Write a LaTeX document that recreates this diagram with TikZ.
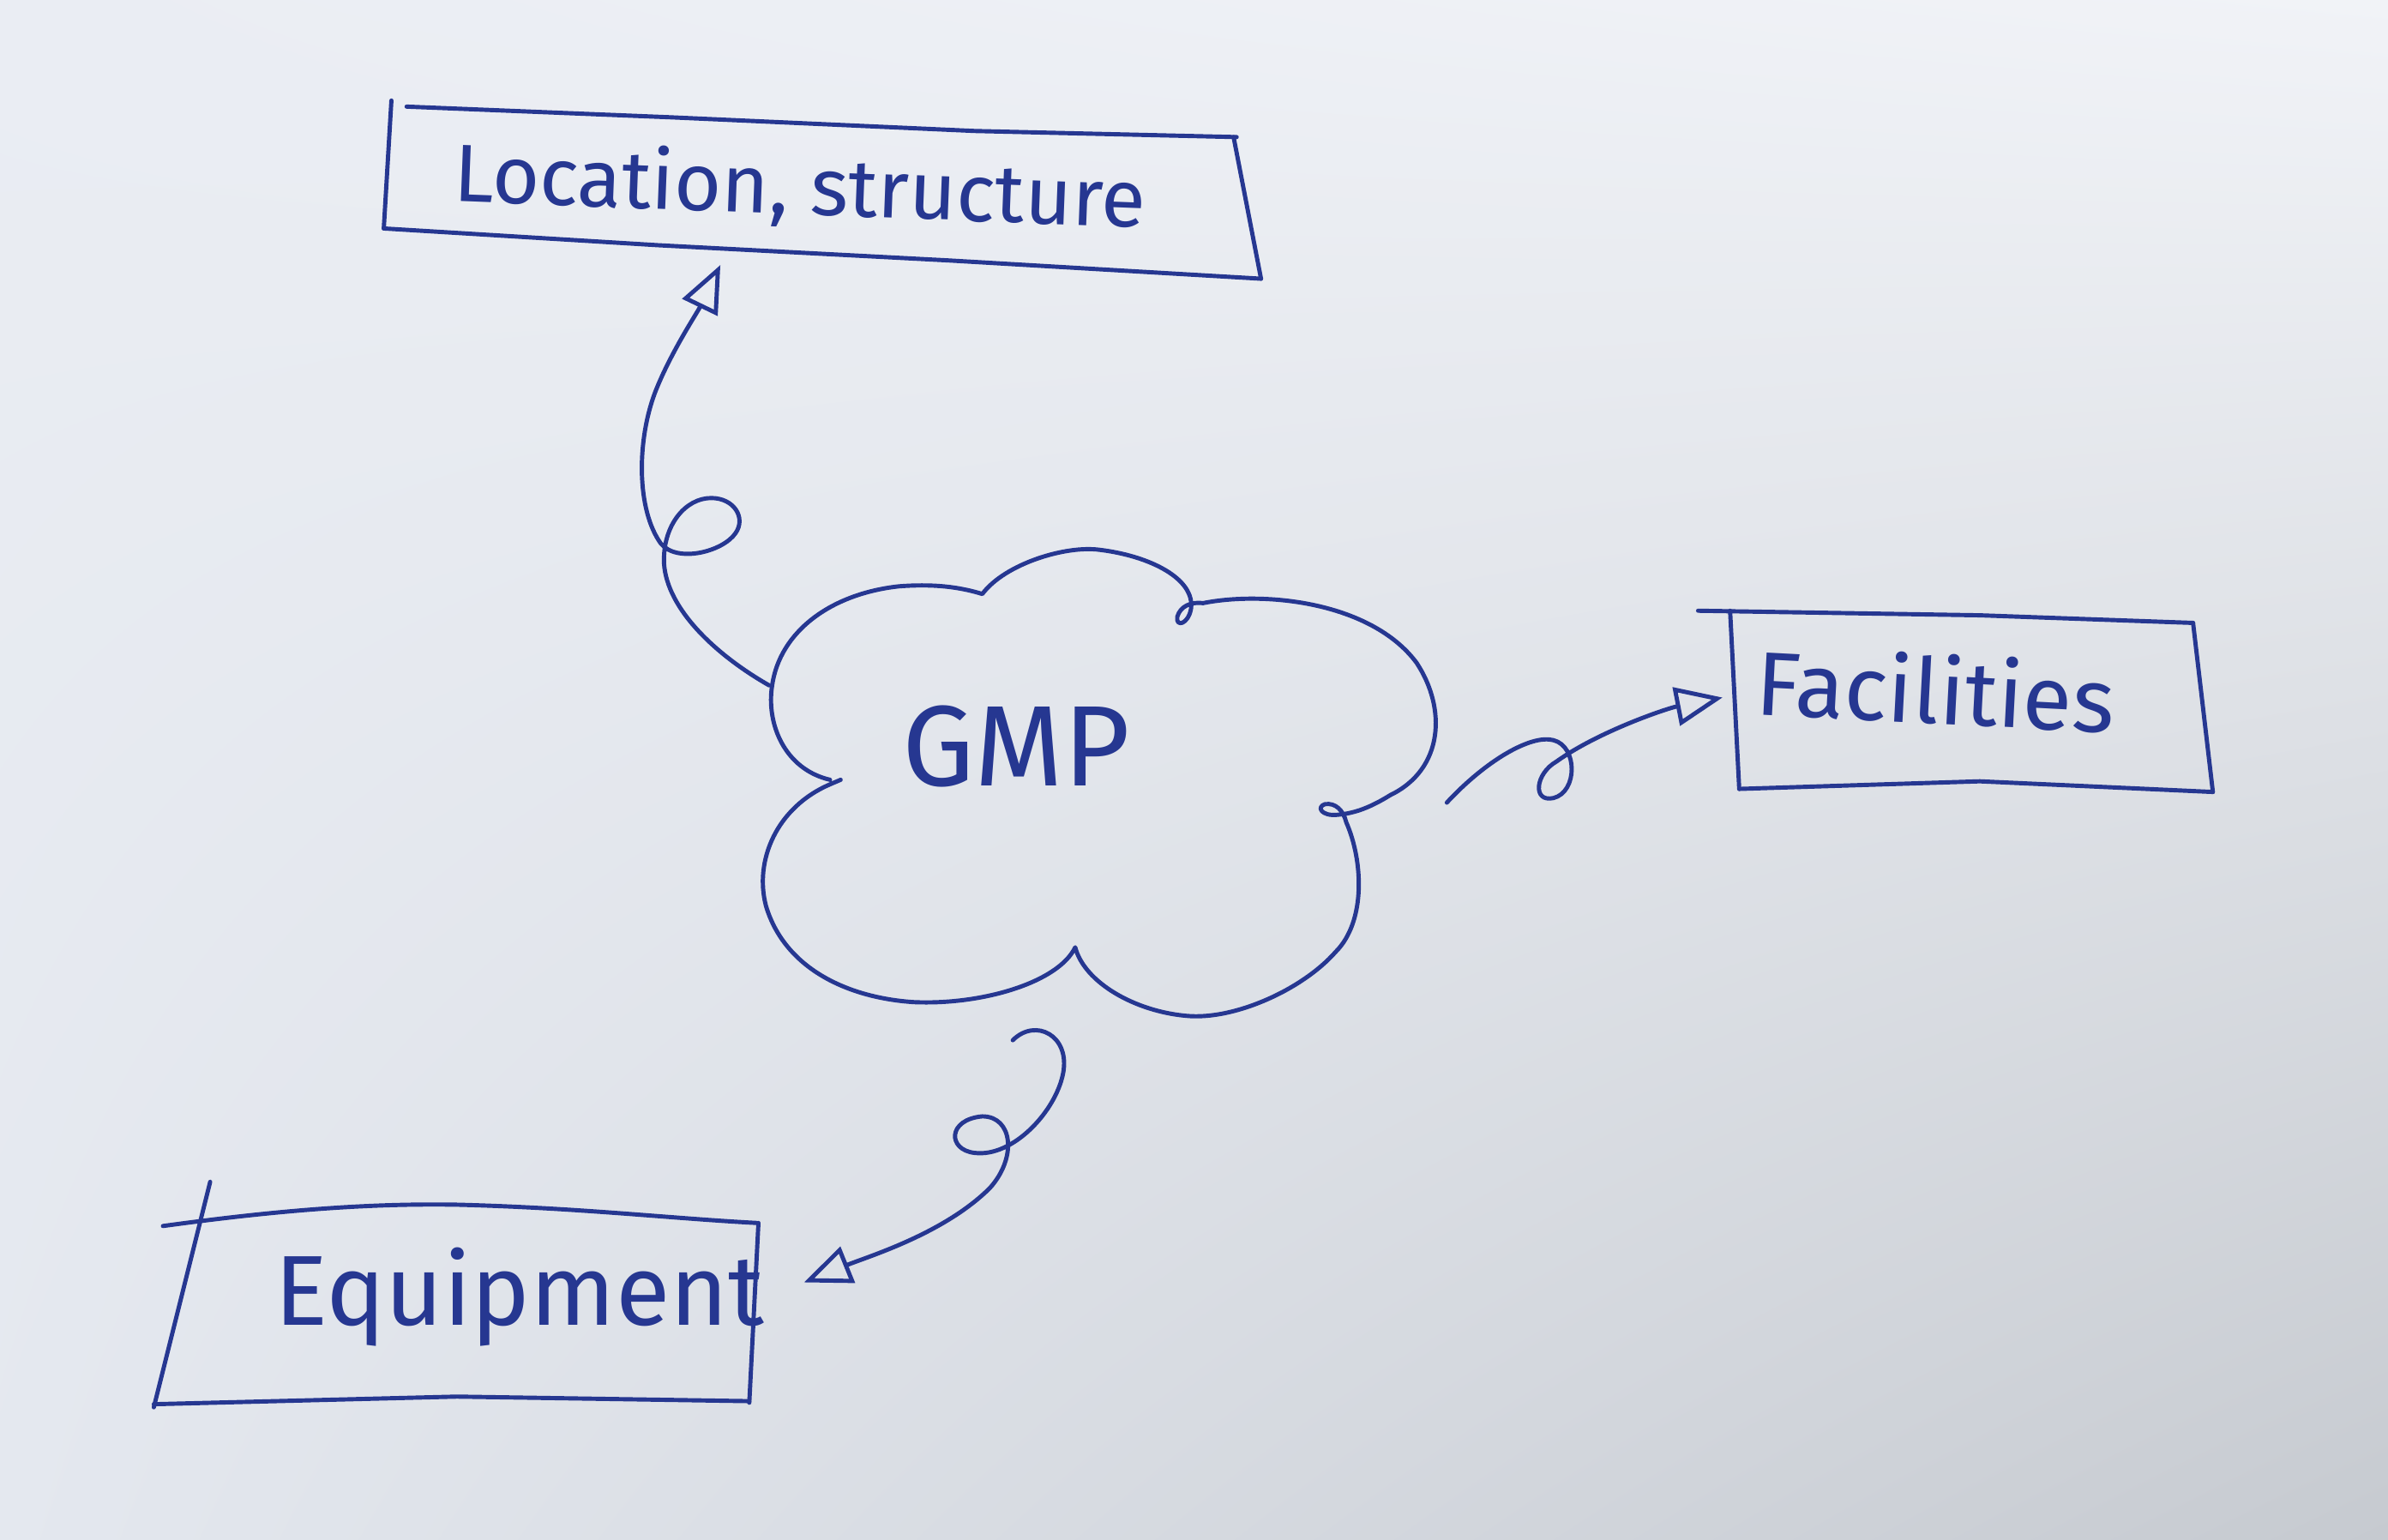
\documentclass[tikz,border=0pt]{standalone}
\usepackage{fontspec}
\setmainfont{Fira Sans}
\usetikzlibrary{arrows.meta,shadings}
\definecolor{ink}{RGB}{38,55,145}
\definecolor{paperUL}{RGB}{234,237,243}
\definecolor{paperUR}{RGB}{241,243,247}
\definecolor{paperLL}{RGB}{228,232,239}
\definecolor{paperLR}{RGB}{198,202,208}
\begin{document}
\begin{tikzpicture}[x=0.01776cm,y=-0.01776cm,
  pen/.style={draw=ink,line width=1.4pt,line cap=round,line join=round},
  lbl/.style={text=ink,inner sep=0pt},
  conn/.style={pen,-{Triangle[open,length=0.55cm,width=0.45cm,line width=1.4pt]}}]
\useasboundingbox (0,0) rectangle (1568,1011);
\shade[upper left=paperUL,upper right=paperUR,lower left=paperLL,lower right=paperLR] (0,0) rectangle (1568,1011);

% boxes
\draw[pen] (267,70) -- (440,77) -- (640,86) -- (812,90);
\draw[pen] (257,66) -- (252,150);
\draw[pen] (252,150) -- (432,161) -- (623,171) -- (828,183);
\draw[pen] (810,90) -- (828,183);

\draw[pen] (1115,401) -- (1300,404) -- (1440,409);
\draw[pen] (1136,401) -- (1142,518);
\draw[pen] (1142,518) -- (1300,513) -- (1453,520);
\draw[pen] (1440,409) -- (1453,520);

\draw[pen] (107,805) .. controls (180,795) and (240,790) .. (300,791) .. controls (380,793) and (440,800) .. (497,803);
\draw[pen] (138,776) -- (101,924);
\draw[pen] (101,922) -- (300,917) -- (492,920);
\draw[pen] (498,803) -- (492,921);

% labels
\node[lbl,font=\fontsize{27}{29}\selectfont,rotate=-2.2,anchor=base west] (loc) at (297,132) {Location, structure};
\node[lbl,font=\fontsize{30}{32}\selectfont,rotate=-3,anchor=base west] (fac) at (1152,469) {Facilities};
\node[lbl,font=\fontsize{33}{35}\selectfont,anchor=base west] (equ) at (180,870) {Equipment};
\node[lbl,font=\fontsize{38}{40}\selectfont,anchor=base west] (gmp) at (592,516) {GMP};

% cloud
\draw[pen] (545,512)
  .. controls (515,505) and (503,475) .. (507,450)
  .. controls (512,415) and (545,390) .. (590,385)
  .. controls (615,383) and (632,386) .. (645,390)
  .. controls (660,370) and (700,358) .. (722,361)
  .. controls (755,365) and (785,380) .. (782,400)
  .. controls (780,410) and (772,412) .. (773,405)
  .. controls (775,398) and (782,395) .. (790,396)
  .. controls (830,388) and (900,395) .. (930,435)
  .. controls (950,465) and (948,505) .. (913,522)
  .. controls (900,530) and (890,534) .. (878,535)
  .. controls (868,536) and (864,530) .. (870,528)
  .. controls (877,527) and (882,532) .. (884,540)
  .. controls (895,565) and (897,605) .. (877,625)
  .. controls (855,650) and (810,670) .. (779,667)
  .. controls (745,664) and (712,645) .. (706,622)
  .. controls (695,645) and (645,660) .. (600,658)
  .. controls (555,655) and (515,635) .. (503,595)
  .. controls (495,565) and (510,530) .. (545,515) -- (552,512);

% connectors
\coordinate (a1s) at (505,450);
\coordinate (a1e) at (473,174);
\coordinate (a2s) at (950,527);
\coordinate (a2e) at (1131,458);
\coordinate (a3s) at (665,683);
\coordinate (a3e) at (528,842);

\draw[conn] (a1s) .. controls (470,430) and (438,400) .. (436,370)
  .. controls (435,345) and (450,327) .. (467,327)
  .. controls (482,327) and (490,340) .. (483,350)
  .. controls (475,362) and (445,370) .. (434,357)
  .. controls (418,335) and (418,290) .. (430,258)
  .. controls (440,232) and (458,205) .. (a1e);

\draw[conn] (a2s) .. controls (975,500) and (1005,482) .. (1020,486)
  .. controls (1036,490) and (1036,520) .. (1020,524)
  .. controls (1006,527) and (1008,508) .. (1022,500)
  .. controls (1050,480) and (1095,465) .. (a2e);

\draw[conn] (a3s) .. controls (680,668) and (703,680) .. (698,705)
  .. controls (693,730) and (665,760) .. (640,757)
  .. controls (622,755) and (622,735) .. (645,733)
  .. controls (665,733) and (668,760) .. (650,780)
  .. controls (620,810) and (570,825) .. (a3e);
\end{tikzpicture}
\end{document}
